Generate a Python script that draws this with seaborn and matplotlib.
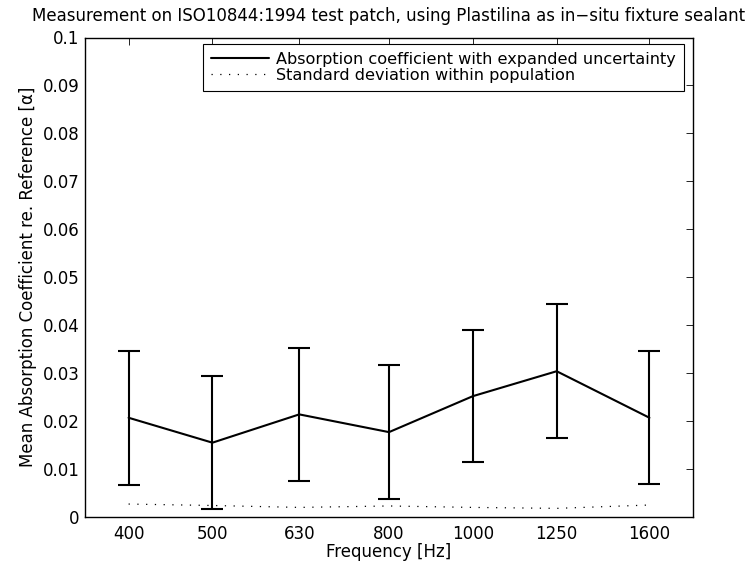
import numpy as np
import pandas as pd
import matplotlib
matplotlib.use("Agg")
import matplotlib.pyplot as plt
import matplotlib.ticker as mticker
import seaborn as sns

# Third-octave band centre frequencies [Hz]
freqs = [400, 500, 630, 800, 1000, 1250, 1600]
freq_labels = ["400", "500", "630", "800", "1000", "1250", "1600"]

# Mean absorption coefficient relative to the reference
alpha_mean = [0.0207, 0.0155, 0.0214, 0.0177, 0.0252, 0.0304, 0.0207]
# Expanded uncertainty (half-width of the error bars)
alpha_unc = [0.0140, 0.0139, 0.0138, 0.0139, 0.0138, 0.0140, 0.0139]
# Standard deviation within the measured population
alpha_std = [0.0027, 0.0024, 0.0020, 0.0023, 0.0020, 0.0018, 0.0025]

y_ticks = [0, 0.01, 0.02, 0.03, 0.04, 0.05, 0.06, 0.07, 0.08, 0.09, 0.1]
y_tick_labels = ["0", "0.01", "0.02", "0.03", "0.04", "0.05", "0.06",
                 "0.07", "0.08", "0.09", "0.1"]

df = pd.DataFrame({"freq": freqs, "mean": alpha_mean,
                   "unc": alpha_unc, "std": alpha_std})

FS = 12

sns.set_style("white")
plt.rcParams["font.family"] = ["DejaVu Sans"]
plt.rcParams["font.size"] = FS
plt.rcParams["text.color"] = "black"
plt.rcParams["axes.labelcolor"] = "black"

fig = plt.figure(figsize=(7.46, 5.70), dpi=100)
ax = fig.add_axes([85 / 746, 1 - 517 / 570, 608 / 746, (517 - 37.5) / 570])

ax.set_xscale("log")

sns.lineplot(data=df, x="freq", y="mean", ax=ax, color="black",
             linewidth=1.5, label="Absorption coefficient with expanded uncertainty")
ax.errorbar(df["freq"], df["mean"], yerr=df["unc"], fmt="none",
            ecolor="black", elinewidth=1.5, capsize=8, capthick=1.5)
sns.lineplot(data=df, x="freq", y="std", ax=ax, color="black",
             linewidth=0.9, linestyle=(0, (1, 6)),
             label="Standard deviation within population")

ratio = 1.123
ax.set_xlim(freqs[0] / ratio, freqs[-1] * ratio)
ax.set_ylim(0, 0.1)

ax.xaxis.set_major_locator(mticker.FixedLocator(freqs))
ax.xaxis.set_major_formatter(mticker.FixedFormatter(freq_labels))
ax.xaxis.set_minor_locator(mticker.NullLocator())
ax.set_yticks(y_ticks)
ax.set_yticklabels(y_tick_labels)

ax.tick_params(axis="both", which="major", direction="in", length=5,
               width=0.6, color="black", top=True, right=True,
               labelsize=FS, labelcolor="black")
ax.tick_params(axis="x", pad=6)
ax.tick_params(axis="y", pad=4)
for side in ["left", "right", "top", "bottom"]:
    ax.spines[side].set_visible(True)
    ax.spines[side].set_color("black")
    ax.spines[side].set_linewidth(1.0)

ax.set_xlabel("Frequency [Hz]", fontsize=FS, labelpad=0)
ax.set_ylabel("Mean Absorption Coefficient re. Reference [\u03b1]",
              fontsize=FS, labelpad=4)
ax.set_title("Measurement on ISO10844:1994 test patch, using Plastilina as "
             "in\u2212situ fixture sealant", fontsize=FS, pad=12, color="black")

# legend box anchored just inside the upper right corner
leg = ax.legend(loc="upper right", bbox_to_anchor=(0.9852, 0.9864),
                frameon=True, fancybox=False, edgecolor="black",
                framealpha=1, fontsize=11.6, borderaxespad=0,
                handlelength=3.6, handletextpad=0.45,
                labelspacing=0.05, borderpad=0.5)
leg.get_frame().set_linewidth(0.8)

fig.savefig("out.png", dpi=100)
